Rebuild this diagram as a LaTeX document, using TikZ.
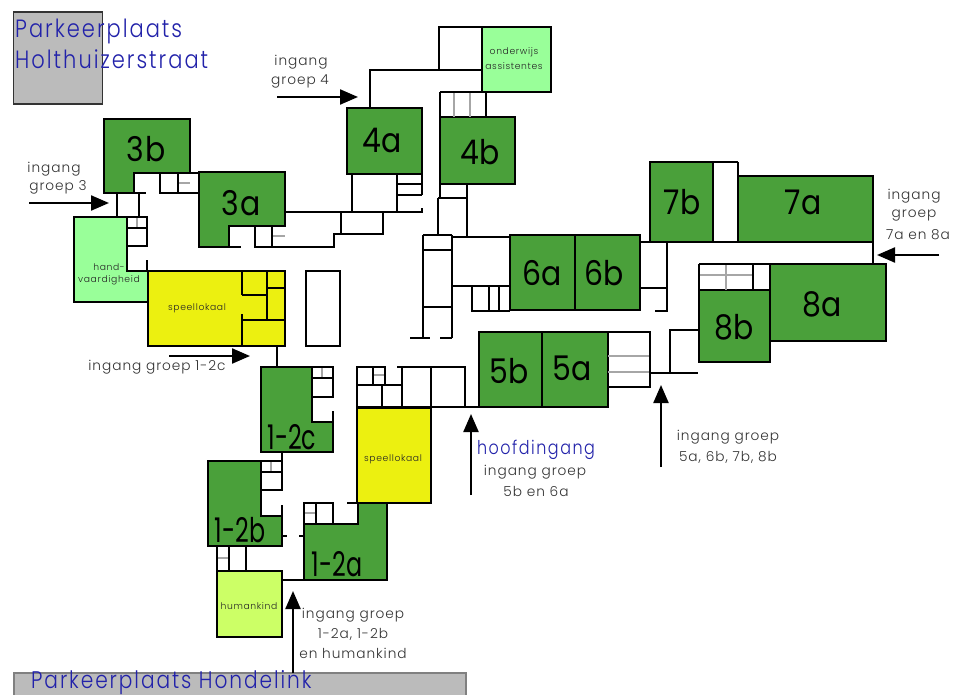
\documentclass[tikz,border=0pt]{standalone}
\usepackage{fontspec}
\setmainfont{Poppins}[UprightFont=* Light,LetterSpace=7]
\newfontfamily\bigf{Poppins}[FakeStretch=0.88,LetterSpace=2]
\newfontfamily\narrowf{Poppins}[FakeStretch=0.70]
\newfontfamily\parkf{Poppins}[UprightFont=* Light,FakeStretch=0.84,LetterSpace=8]
\usetikzlibrary{arrows.meta}
\definecolor{room}{HTML}{4AA03A}
\definecolor{yel}{HTML}{ECF010}
\definecolor{hnd}{HTML}{99FF99}
\definecolor{hum}{HTML}{CCFF66}
\definecolor{grayp}{HTML}{BBBBBB}
\definecolor{blu}{HTML}{2222AA}
\definecolor{lab}{HTML}{333333}
\tikzset{
  wall/.style={draw=black,line width=2.8pt,line join=miter},
  grayline/.style={draw=black!35,line width=2pt},
  roomg/.style={wall,fill=room},
  bigl/.style={inner sep=0pt,text=black,font=\bigf\fontsize{34}{34}\selectfont},
  narrowl/.style={inner sep=0pt,text=black,font=\narrowf\fontsize{34}{34}\selectfont},
  smalll/.style={inner sep=0pt,text=black!85,font=\fontsize{9.2}{10}\selectfont},
  lbl/.style={inner sep=0pt,text=lab,font=\fontsize{13.7}{14}\selectfont},
  parking/.style={inner sep=0pt,anchor=base west,text=blu,font=\parkf\fontsize{25}{25}\selectfont},
  parkinglow/.style={inner sep=0pt,anchor=base west,text=blu,font=\parkf\fontsize{24}{24}\selectfont},
  arrow/.style={draw=black,line width=2.2pt,-{Triangle[length=18pt,width=15pt]},shorten >=-1pt}
}
\begin{document}
\begin{tikzpicture}[x=1pt,y=-1pt]
\useasboundingbox (0,0) rectangle (961,695);
\fill[white] (0,0) rectangle (961,695);
% parking
\path[draw=black!80,line width=1.5pt,fill=grayp] (13.5,12) rectangle (102.5,104);
\path[draw=black!50,line width=1.5pt,fill=grayp] (14,673) rectangle (466,700);
% coloured blocks
\path[wall,fill=hnd] (74,217)--(127,217)--(127,271)--(148,271)--(148,302)--(74,302)--cycle;
\path[wall,fill=hnd] (482,27) rectangle (551,92);
\path[wall,fill=hum] (217,571) rectangle (282,637);
\path[wall,fill=yel] (148,271) rectangle (285,346);
\path[wall,fill=yel] (357,408) rectangle (431,503);
% green rooms
\path[roomg] (104,119)--(190,119)--(190,173)--(134,173)--(134,193)--(104,193)--cycle;
\path[roomg] (199,172)--(285,172)--(285,226)--(229,226)--(229,247)--(199,247)--cycle;
\path[roomg] (347,108) rectangle (422,174);
\path[roomg] (440,117) rectangle (515,184);
\path[roomg] (510,235) rectangle (575,310);
\path[roomg] (575,235) rectangle (640,310);
\path[roomg] (479,332) rectangle (542,407);
\path[roomg] (542,332) rectangle (608,407);
\path[roomg] (650,162) rectangle (713,242);
\path[roomg] (738,176) rectangle (873,242);
\path[roomg] (770,264) rectangle (886,341);
\path[roomg] (699,290) rectangle (770,362);
\path[roomg] (261,367)--(312,367)--(312,422)--(333,422)--(333,452)--(261,452)--cycle;
\path[roomg] (208,461)--(261,461)--(261,516)--(282,516)--(282,546)--(208,546)--cycle;
\path[roomg] (304,524)--(358,524)--(358,503)--(387,503)--(387,580)--(304,580)--cycle;
% gray partitions
\draw[grayline] (178,183)--(190,183) (272,236)--(285,236) (137,217)--(137,228)
  (454,92)--(454,117) (470,92)--(470,117) (608,356)--(650,356) (608,372)--(650,372)
  (699,275)--(752,275) (726,264)--(726,290) (322,367)--(322,378) (271,461)--(271,472)
  (217,558)--(229,558) (304,513)--(316,513) (373,375)--(385,375);
% walls
\draw[wall]
  (160,173)--(199,173) (160,173)--(160,193)--(199,193) (178,173)--(178,193)
  (117,193)--(117,217) (139,193)--(139,217) (134,193)--(146,193)
  (127,217)--(147,217)--(147,246)--(127,246) (127,228)--(147,228) (147,260)--(147,271)
  (229,247)--(241,247) (255,226)--(255,247)--(285,247) (272,226)--(272,247)
  (285,247)--(334,247)--(334,234)--(383,234)--(383,212) (285,212)--(397,212) (341,212)--(341,234)
  (352,174)--(352,212) (397,174)--(397,212) (397,212)--(422,212)--(422,208)
  (397,184)--(422,184) (397,195)--(422,195) (422,174)--(422,195)
  (370,108)--(370,70)--(482,70) (439,70)--(439,27)--(482,27)
  (440,92)--(486,92) (486,92)--(486,117) (440,92)--(440,117)
  (440,184)--(440,198) (467,184)--(467,237) (438,198)--(467,198) (438,198)--(438,235)
  (423,235)--(452,235) (423,235)--(423,338) (452,235)--(452,338) (423,250)--(452,250) (423,307)--(452,307)
  (410,338)--(430,338) (440,338)--(452,338)
  (452,237)--(510,237) (452,286)--(510,286) (472,286)--(472,311)--(510,311) (489,286)--(489,311) (499,286)--(499,311)
  (640,242)--(667,242)--(667,311)--(655,311) (640,288)--(667,288)
  (608,332)--(650,332)--(650,387)--(608,387)
  (650,373)--(698,373) (670,373)--(670,330)--(698,330)
  (699,264)--(770,264) (699,264)--(699,290) (753,264)--(753,290)
  (713,162)--(738,162) (738,162)--(738,242) (713,242)--(738,242)
  (770,264)--(873,264) (873,242)--(873,264)
  (242,271)--(242,295) (242,314)--(242,346) (242,295)--(267,295) (267,271)--(267,320) (242,320)--(285,320) (267,288)--(285,288)
  (277,346)--(277,367)
  (312,367)--(333,367)--(333,397)--(312,397) (312,378)--(333,378) (333,422)--(333,411)
  (282,452)--(282,490)--(261,490) (261,461)--(282,461) (261,472)--(282,472) (282,505)--(282,516)
  (282,536)--(287,536) (299,536)--(304,536)
  (217,546)--(217,571) (229,546)--(229,571) (246,546)--(246,571) (282,580)--(304,580)
  (304,524)--(304,503)--(333,503)--(333,524) (316,503)--(316,524) (347,503)--(358,503)
  (357,408)--(357,367)--(386,367) (397,367)--(465,367)--(465,407) (357,407)--(479,407)
  (373,367)--(373,385) (385,367)--(385,385) (357,385)--(402,385) (382,385)--(382,407) (402,367)--(402,407) (431,367)--(431,408);
\draw[wall] (306,271) rectangle (340,346);
% arrow ends
\coordinate (a3s) at (29,203); \coordinate (a3e) at (108,203);
\coordinate (a4s) at (277,97); \coordinate (a4e) at (357,97);
\coordinate (acs) at (169,356); \coordinate (ace) at (249,356);
\coordinate (a1s) at (293,673); \coordinate (a1e) at (293,592);
\coordinate (ahs) at (471,495); \coordinate (ahe) at (471,415);
\coordinate (a5s) at (661,467); \coordinate (a5e) at (661,386);
\coordinate (a7s) at (939,255); \coordinate (a7e) at (878,255);
\draw[arrow] (a3s)--(a3e);
\draw[arrow] (a4s)--(a4e);
\draw[arrow] (acs)--(ace);
\draw[arrow] (a1s)--(a1e);
\draw[arrow] (ahs)--(ahe);
\draw[arrow] (a5s)--(a5e);
\draw[arrow] (a7s)--(a7e);
% big labels
\node[bigl] (l3b) at (146,149) {3b};
\node[bigl] (l3a) at (241,203) {3a};
\node[bigl] (l4a) at (382,140) {4a};
\node[bigl] (l4b) at (480,152) {4b};
\node[bigl] (l6a) at (542,273) {6a};
\node[bigl] (l6b) at (604,273) {6b};
\node[bigl] (l5b) at (509,371) {5b};
\node[bigl] (l5a) at (572,368) {5a};
\node[bigl] (l7b) at (682,202) {7b};
\node[bigl] (l7a) at (803,202) {7a};
\node[bigl] (l8a) at (822,304) {8a};
\node[bigl] (l8b) at (734,327) {8b};
\node[narrowl] (l12c) at (292,437) {1-2c};
\node[narrowl] (l12b) at (240,530) {1-2b};
\node[narrowl] (l12a) at (337,564) {1-2a};
% small room labels
\node[smalll] (shand) at (109,267) {hand-};
\node[smalll] (svaar) at (109,280) {vaardigheid};
\node[smalll] (ssp1) at (197,308) {speellokaal};
\node[smalll] (ssp2) at (393,459) {speellokaal};
\node[smalll] (shum) at (249,606) {humankind};
\node[smalll] (sond) at (514,52) {onderwijs};
\node[smalll] (sass) at (514,66) {assistentes};
% entrance labels
\node[lbl] (i3a) at (54,169) {ingang};
\node[lbl] (i3b) at (58,187) {groep 3};
\node[lbl] (i4a) at (301,62) {ingang};
\node[lbl] (i4b) at (300,81) {groep 4};
\node[lbl] (ic) at (157,367) {ingang groep 1-2c};
\node[lbl] (i1a) at (353,615) {ingang groep};
\node[lbl] (i1b) at (353,634) {1-2a, 1-2b};
\node[lbl] (i1c) at (353,653) {en humankind};
\node[lbl] (i5a) at (535,472) {ingang groep};
\node[lbl] (i5b) at (536,491) {5b en 6a};
\node[lbl] (i6a) at (728,437) {ingang groep};
\node[lbl] (i6b) at (728,457) {5a, 6b, 7b, 8b};
\node[lbl] (i7a) at (914,196) {ingang};
\node[lbl] (i7b) at (914,216) {groep};
\node[lbl] (i7c) at (918,235) {7a en 8a};
\node[inner sep=0pt,text=blu,font=\parkf\fontsize{19}{19}\selectfont] (hoofd) at (536,450) {hoofdingang};
% parking labels
\node[parking] (p1) at (15,38) {Parkeerplaats};
\node[parking] (p2) at (15,69) {Holthuizerstraat};
\node[parkinglow] (p3) at (31,688) {Parkeerplaats Hondelink};
\end{tikzpicture}
\end{document}
